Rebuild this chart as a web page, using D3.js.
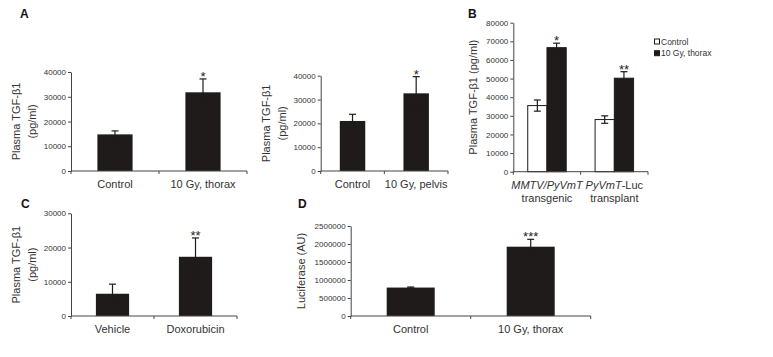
<!DOCTYPE html>
<html>
<head>
<meta charset="utf-8">
<script src="https://cdn.jsdelivr.net/npm/d3@7"></script>
<style>
  html, body { margin: 0; padding: 0; background: #fff; }
  svg { display: block; font-family: "Liberation Sans", Arial, sans-serif; }
</style>
</head>
<body>
<svg id="chart" width="773" height="357"></svg>
<script>
// ---------- DATA ----------
// Panel A (left): thorax irradiation
const aCategories = ["Control", "10 Gy, thorax"];
const aValues = [14800, 31800];
const aErrors = [1400, 5400];
const aSignif = ["", "*"];
const aTicks = [0, 10000, 20000, 30000, 40000];

// Panel A (right): pelvis irradiation
const a2Categories = ["Control", "10 Gy, pelvis"];
const a2Values = [21000, 32600];
const a2Errors = [2800, 7000];
const a2Signif = ["", "*"];
const a2Ticks = [0, 10000, 20000, 30000, 40000];

// Panel B: grouped
const bGroupsLine1 = ["MMTV/PyVmT", "PyVmT-Luc"];
const bGroupsLine2 = ["transgenic", "transplant"];
const bSeries = ["Control", "10 Gy, thorax"];
const bControlValues = [35500, 28000];
const bControlErrors = [3000, 2000];
const bIrradValues = [66600, 50200];
const bIrradErrors = [2400, 3500];
const bSignif = ["*", "**"];
const bTicks = [0, 10000, 20000, 30000, 40000, 50000, 60000, 70000, 80000];

// Panel C
const cCategories = ["Vehicle", "Doxorubicin"];
const cValues = [6500, 17300];
const cErrors = [2800, 5500];
const cSignif = ["", "**"];
const cTicks = [0, 10000, 20000, 30000];

// Panel D
const dCategories = ["Control", "10 Gy, thorax"];
const dValues = [790000, 1925000];
const dErrors = [15000, 205000];
const dSignif = ["", "***"];
const dTicks = [0, 500000, 1000000, 1500000, 2000000, 2500000];

// ---------- DRAWING ----------
const svg = d3.select("#chart");
const BAR = "#1f1b1b";
const AXIS = "#444";
const TXT = "#333";

function yAxisDraw(g, y, ticks, x0) {
  const ax = g.append("g")
    .attr("transform", `translate(${x0},0)`)
    .call(d3.axisLeft(y).tickValues(ticks).tickSize(3).tickSizeOuter(0).tickPadding(2).tickFormat(d3.format("d")));
  ax.select(".domain").attr("stroke", AXIS);
  ax.selectAll(".tick line").attr("stroke", AXIS);
  ax.selectAll(".tick text").attr("fill", TXT).style("font-size", "8px")
    .style("font-family", "'Liberation Sans', Arial, sans-serif");
}

function xAxisDraw(g, x, x0, x1, y0) {
  g.append("line").attr("x1", x0).attr("x2", x1).attr("y1", y0).attr("y2", y0).attr("stroke", AXIS);
  const bounds = x.domain().map(d => x(d)).concat([x1]);
  g.selectAll(".xt").data(bounds).enter().append("line")
    .attr("x1", d => d).attr("x2", d => d).attr("y1", y0).attr("y2", y0 + 3).attr("stroke", AXIS);
}

function errorBar(g, cx, yv, ye_hi, ye_lo, color) {
  g.append("line").attr("x1", cx).attr("x2", cx).attr("y1", ye_lo).attr("y2", ye_hi).attr("stroke", color).attr("stroke-width", 1.2);
  [ye_hi, ye_lo].forEach(yy => {
    g.append("line").attr("x1", cx - 3.5).attr("x2", cx + 3.5).attr("y1", yy).attr("y2", yy).attr("stroke", color).attr("stroke-width", 1.2);
  });
}

function yLabel(g, lines, xs, yc, size) {
  lines.forEach((t, i) => {
    g.append("text")
      .attr("transform", `translate(${xs[i]},${yc}) rotate(-90)`)
      .attr("text-anchor", "middle").attr("dominant-baseline", "central")
      .attr("fill", TXT).style("font-size", size + "px").text(t);
  });
}

function sigText(g, cx, yTopErr, s) {
  g.append("text").attr("x", cx).attr("y", yTopErr + 2).attr("text-anchor", "middle")
    .attr("fill", "#222").style("font-size", "13px").text(s);
}

function simplePanel(opt) {
  const g = svg.append("g");
  const x = d3.scaleBand().domain(opt.cats).range([opt.x0, opt.x1]).paddingInner(0).paddingOuter(0);
  const y = d3.scaleLinear().domain([0, opt.ticks[opt.ticks.length - 1]]).range([opt.y0, opt.yTop]);
  const bw = x.bandwidth() * 0.4;
  opt.cats.forEach((c, i) => {
    const cx = x(c) + x.bandwidth() / 2;
    g.append("rect").attr("x", cx - bw / 2).attr("y", y(opt.vals[i]))
      .attr("width", bw).attr("height", opt.y0 - y(opt.vals[i])).attr("fill", BAR);
    const hi = y(opt.vals[i] + opt.errs[i]);
    errorBar(g, cx, y(opt.vals[i]), hi, y(opt.vals[i] - opt.errs[i]), BAR);
    if (opt.sig[i]) sigText(g, cx, hi, opt.sig[i]);
    g.append("text").attr("x", cx).attr("y", opt.y0 + 17).attr("text-anchor", "middle")
      .attr("fill", TXT).style("font-size", "11px").text(c);
  });
  yAxisDraw(g, y, opt.ticks, opt.x0);
  xAxisDraw(g, x, opt.x0, opt.x1, opt.y0);
  yLabel(g, opt.ylab, opt.ylabX, (opt.y0 + opt.yTop) / 2, 11);
}

// Panel A left
simplePanel({cats: aCategories, vals: aValues, errs: aErrors, sig: aSignif, ticks: aTicks,
  x0: 71, x1: 247, y0: 171, yTop: 72, ylab: ["Plasma TGF-β1", "(pg/ml)"], ylabX: [16, 32]});
// Panel A right
simplePanel({cats: a2Categories, vals: a2Values, errs: a2Errors, sig: a2Signif, ticks: a2Ticks,
  x0: 320.7, x1: 448, y0: 171, yTop: 75.7, ylab: ["Plasma TGF-β1", "(pg/ml)"], ylabX: [266, 282]});
// Panel C
simplePanel({cats: cCategories, vals: cValues, errs: cErrors, sig: cSignif, ticks: cTicks,
  x0: 71, x1: 237, y0: 316, yTop: 213.3, ylab: ["Plasma TGF-β1", "(pg/ml)"], ylabX: [16, 32]});
// Panel D
simplePanel({cats: dCategories, vals: dValues, errs: dErrors, sig: dSignif, ticks: dTicks,
  x0: 350.7, x1: 590.7, y0: 316, yTop: 226, ylab: ["Luciferase (AU)"], ylabX: [301]});

// Panel B (grouped)
(function () {
  const g = svg.append("g");
  const x0 = 513.3, x1 = 648, y0 = 171.7, yTop = 22.7;
  const x = d3.scaleBand().domain(bGroupsLine1).range([x0, x1]);
  const y = d3.scaleLinear().domain([0, bTicks[bTicks.length - 1]]).range([y0, yTop]);
  const bw = x.bandwidth() / 3.5;
  const seriesVals = [bControlValues, bIrradValues];
  const seriesErrs = [bControlErrors, bIrradErrors];
  bGroupsLine1.forEach((grp, i) => {
    const gc = x(grp) + x.bandwidth() / 2;
    [0, 1].forEach(s => {
      const bx = gc - bw + s * bw;
      const v = seriesVals[s][i], e = seriesErrs[s][i];
      g.append("rect").attr("x", bx).attr("y", y(v)).attr("width", bw).attr("height", y0 - y(v))
        .attr("fill", s === 0 ? "#fff" : BAR).attr("stroke", BAR).attr("stroke-width", 1);
      const cx = bx + bw / 2;
      errorBar(g, cx, y(v), y(v + e), y(v - e), BAR);
      if (s === 1) sigText(g, cx, y(v + e), bSignif[i]);
    });
    // category labels
    const t1 = g.append("text").attr("x", gc).attr("y", y0 + 17).attr("text-anchor", "middle")
      .attr("fill", TXT).style("font-size", "11px");
    if (i === 0) {
      t1.append("tspan").style("font-style", "italic").text("MMTV/PyVmT");
    } else {
      t1.append("tspan").style("font-style", "italic").text("PyVmT");
      t1.append("tspan").text("-Luc");
    }
    g.append("text").attr("x", gc).attr("y", y0 + 30).attr("text-anchor", "middle")
      .attr("fill", TXT).style("font-size", "11px").text(bGroupsLine2[i]);
  });
  yAxisDraw(g, y, bTicks, x0);
  xAxisDraw(g, x, x0, x1, y0);
  yLabel(g, ["Plasma TGF-β1 (pg/ml)"], [473], (y0 + yTop) / 2, 11);

  // legend
  const lg = g.append("g");
  bSeries.forEach((s, i) => {
    const yy = 41.5 + i * 11.7;
    lg.append("rect").attr("x", 654.5).attr("y", yy - 2.5).attr("width", 5).attr("height", 5)
      .attr("fill", i === 0 ? "#fff" : BAR).attr("stroke", BAR).attr("stroke-width", 1);
    lg.append("text").attr("x", 661).attr("y", yy).attr("dominant-baseline", "central")
      .attr("fill", TXT).style("font-size", "8.5px").text(s);
  });
})();

// Panel letters
[["A", 20, 17.5], ["B", 468, 18], ["C", 21, 208], ["D", 298, 208]].forEach(([t, xx, yy]) => {
  svg.append("text").attr("x", xx).attr("y", yy).style("font-size", "12px").style("font-weight", "bold")
    .attr("fill", "#111").text(t);
});
</script>
</body>
</html>
